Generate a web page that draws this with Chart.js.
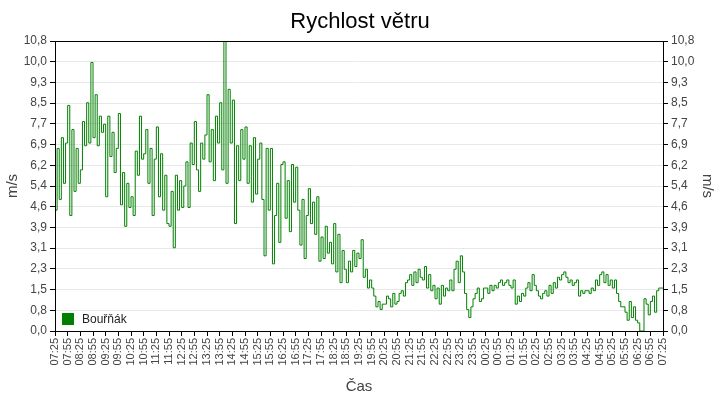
<!DOCTYPE html>
<html><head><meta charset="utf-8">
<script src="https://cdn.jsdelivr.net/npm/chart.js@4"></script>
<style>html,body{margin:0;padding:0;background:#fff}#w{width:720px;height:400px}</style>
</head><body><div id="w"><canvas id="c"></canvas></div>
<script>
const timeLabels = ["07:25","07:55","08:25","08:55","09:25","09:55","10:25","10:55","11:25","11:55","12:25","12:55","13:25","13:55","14:25","14:55","15:25","15:55","16:25","16:55","17:25","17:55","18:25","18:55","19:25","19:55","20:25","20:55","21:25","21:55","22:25","22:55","23:25","23:55","00:25","00:55","01:25","01:55","02:25","02:55","03:25","03:55","04:25","04:55","05:25","05:55","06:25","06:55","07:25"];
const yTickLabels = ["0,0","0,8","1,5","2,3","3,1","3,9","4,6","5,4","6,2","6,9","7,7","8,5","9,3","10,0","10,8"];
const yMax = 10.8;
const stepMinutes = 5;
const windSpeed = [
4.5,6.8,4.9,7.2,5.5,7.0, 8.4,4.3,7.5,5.2,6.8,5.5, 6.0,7.8,6.9,8.5,7.0,10.0, 7.2,8.8,6.9,8.0,7.4,7.7,
5.0,8.0,6.5,7.4,5.9,6.8, 8.1,4.7,5.9,3.9,5.5,4.6, 5.0,4.3,6.7,5.8,8.0,6.4, 6.6,7.5,5.5,6.8,4.3,6.4,
7.6,5.0,6.6,4.5,5.8,4.0, 3.9,5.2,3.1,5.8,4.5,5.6, 4.6,5.4,6.3,4.6,7.0,6.2, 7.8,6.0,5.2,7.0,6.4,7.3,
8.8,6.3,7.5,5.6,8.0,7.0, 8.5,6.0,10.8,5.5,9.0,7.0, 8.6,4.0,6.9,5.6,7.5,6.4, 7.6,5.5,6.9,4.8,7.2,5.1,
6.4,7.0,4.9,2.8,6.8,4.5, 6.8,2.5,4.3,5.5,3.3,6.2, 6.3,4.2,5.6,3.7,6.2,4.8, 6.1,4.5,3.2,4.9,2.7,4.3,
5.3,4.0,4.8,3.6,5.0,2.6, 3.5,2.7,3.9,2.9,3.3,2.5, 4.0,2.2,3.6,1.8,3.0,2.3, 1.8,2.6,2.2,3.0,2.4,2.9,
2.7,3.4,2.0,2.3,1.6,1.9, 1.6,1.3,0.9,1.1,0.8,1.0, 1.0,1.3,1.2,0.9,1.4,1.0, 1.1,1.4,1.5,1.3,1.8,1.9,
2.1,1.7,2.2,1.8,2.3,2.0, 1.9,2.4,1.6,2.1,1.5,1.7, 1.2,1.6,1.0,1.7,1.3,1.6, 1.5,1.9,1.5,2.3,2.6,1.8,
2.8,2.2,1.4,0.8,0.5,0.9, 1.2,1.4,1.6,1.1,1.2,1.6, 1.6,1.4,1.7,1.5,1.7,1.6, 1.8,1.9,1.7,1.8,1.9,1.7,
1.6,1.9,1.0,1.3,1.1,1.4, 1.3,1.6,1.8,1.5,2.1,1.7, 1.5,1.3,1.2,1.4,1.5,1.3, 1.7,1.4,1.8,1.6,2.0,1.9,
2.1,2.2,2.0,1.8,1.9,1.7, 1.8,1.9,1.3,1.5,1.4,1.5, 1.5,1.4,1.6,1.5,1.9,1.7, 2.1,2.2,1.8,2.1,1.7,1.9,
1.6,1.9,1.4,1.1,0.9,0.9, 0.7,0.4,1.1,0.5,0.9,0.4, 0.3,0.0,0.0,1.2,1.0,0.6, 1.1,1.3,0.7,1.5,1.6,1.6,
1.6];
const seriesName = "Bouřňák";
const titleText = "Rychlost větru";

const pts = windSpeed.map((v,i)=>({x:i*stepMinutes,y:v}));
const font = "'Liberation Sans', Arial, sans-serif";
const green = "#008000";

const deco = {
  id:'deco',
  afterDraw(ch){
    const c=ch.ctx, a=ch.chartArea;
    c.save();
    c.fillStyle='#000'; c.font="22px "+font; c.textAlign='center'; c.textBaseline='middle';
    c.fillText(titleText,360,22);
    c.fillStyle=green; c.fillRect(a.left+7,a.bottom-18,12,12);
    c.fillStyle='#222'; c.font="12px "+font; c.textAlign='left';
    c.fillText(seriesName,a.left+27,a.bottom-11);
    c.strokeStyle='#000'; c.lineWidth=1;
    c.strokeRect(a.left+0.5,a.top+0.5,a.right-a.left,a.bottom-a.top);
    c.restore();
  }
};
const yTicks = {
  min:0,max:yMax,
  afterBuildTicks(ax){ax.ticks=yTickLabels.map((l,i)=>({value:i*yMax/(yTickLabels.length-1)}));},
  ticks:{callback:(v,i)=>yTickLabels[i],color:'#444',font:{family:font,size:12}},
  title:{display:true,text:'m/s',color:'#444',font:{family:font,size:15}},
  border:{color:'#000'}
};
new Chart(document.getElementById('c'),{
  type:'line',
  data:{datasets:[{label:seriesName,data:pts,borderColor:green,borderWidth:1,pointRadius:0,stepped:true,tension:0}]},
  options:{
    responsive:true,maintainAspectRatio:false,animation:false,
    layout:{padding:{top:41,left:0,right:0,bottom:0}},
    plugins:{legend:{display:false},tooltip:{enabled:false}},
    scales:{
      x:{type:'linear',min:0,max:(timeLabels.length-1)*30,
        afterBuildTicks(ax){ax.ticks=timeLabels.map((l,i)=>({value:i*30}));},
        afterFit(ax){ax.height=69;},
        ticks:{callback:(v,i)=>timeLabels[i],autoSkip:false,maxRotation:90,minRotation:90,color:'#444',font:{family:font,size:11},padding:2},
        grid:{drawOnChartArea:false,tickLength:5,color:'#000'},
        border:{color:'#000'},
        title:{display:true,text:'Čas',color:'#444',font:{family:font,size:15},padding:{top:0}}},
      y:Object.assign({position:'left',afterFit(ax){ax.width=55;},grid:{color:'#e8e8e8',tickColor:'#000',tickLength:5}},yTicks),
      y2:Object.assign({position:'right',afterFit(ax){ax.width=57;},grid:{drawOnChartArea:false,tickColor:'#000',tickLength:5}},yTicks)
    }
  },
  plugins:[deco]
});
</script></body></html>
